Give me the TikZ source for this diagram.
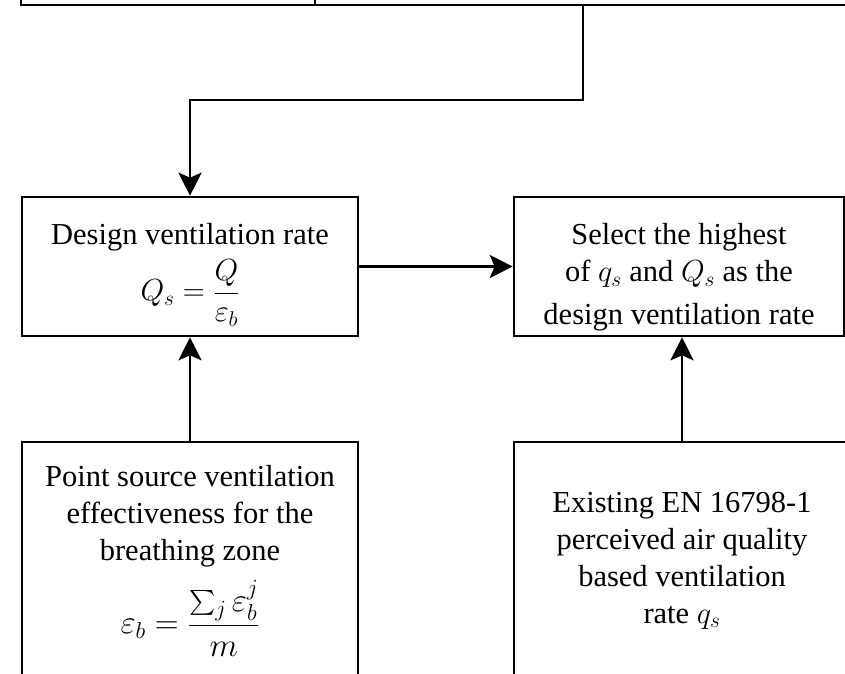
\RequirePackage{fix-cm}
\documentclass[tikz,border=0pt]{standalone}
\usepackage{amsmath}
\usepackage{fontspec}
\setmainfont{Liberation Serif}
\usetikzlibrary{positioning,arrows.meta}

\newcommand{\bigmath}[1]{{\fontsize{33}{40}\selectfont$\displaystyle #1$}}

\begin{document}
\begin{tikzpicture}[
  x=1pt,y=1pt,
  every node/.style={font=\fontsize{30.5}{37}\selectfont},
  block/.style={draw,line width=2.6pt,align=center,inner sep=0pt},
  arr/.style={-{Stealth[length=23pt,width=23pt,inset=5pt]},line width=2.6pt}
]
  \useasboundingbox (0,0) rectangle (845,673);
  \clip (0,0) rectangle (845,673);

  % cut-off boxes at the top
  \node[block,minimum width=294,minimum height=60] (topleft)  at (168,698) {};
  \node[block,minimum width=560,minimum height=60] (topright) at (595,698) {};

  \node[block,minimum width=336,minimum height=139] (design) at (190,406.5)
    {\rule{0pt}{38pt}Design ventilation rate\\[7pt]
     $\displaystyle Q_s=\frac{Q}{\varepsilon_b}$};
  \node[block,minimum width=330,minimum height=139] (select) at (679,406.5)
    {\rule{0pt}{43pt}Select the highest\\
     of $q_s$ and $Q_s$ as the\\[6pt]
     design ventilation rate};
  \node[block,minimum width=336,minimum height=238] (point) at (190,112)
    {Point source ventilation\\
     effectiveness for the\\
     breathing zone\\[12pt]
     \bigmath{\varepsilon_b=\frac{\sum_j \varepsilon_b^j}{m}}};
  \node[block,minimum width=336,minimum height=238,text depth=7pt] (existing) at (682,112)
    {Existing EN 16798-1\\
     perceived air quality\\
     based ventilation\\
     rate $q_s$};

  % connectors
  \coordinate (turn) at (583,573);
  \draw[arr] (turn |- topright.south) -- (turn) -| (design.north);
  \draw[arr] (design) -- (select);
  \draw[arr] (point) -- (design);
  \draw[arr] (existing.north) -- (existing.north |- select.south);
\end{tikzpicture}
\end{document}
